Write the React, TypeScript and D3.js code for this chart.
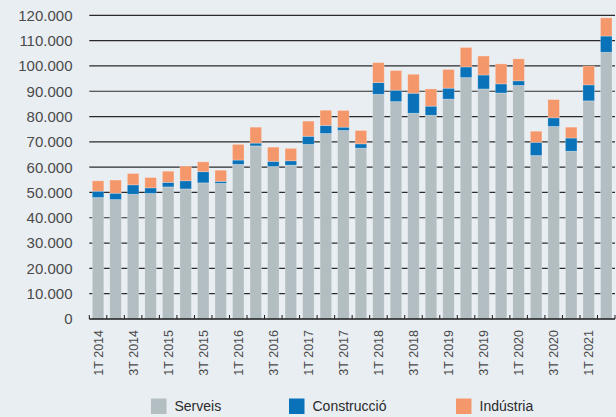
import React from "react";
import * as d3 from "d3";

const quarters: string[] = [];
const years = [2014, 2015, 2016, 2017, 2018, 2019, 2020, 2021];
years.forEach((y) => {
  ["1T", "2T", "3T", "4T"].forEach((q) => quarters.push(`${q} ${y}`));
});
const categories = quarters.slice(0, 30);

const serveis = [
  48.0, 47.2, 49.3, 49.6, 52.2, 51.4, 53.8, 53.6, 61.1, 68.4, 60.3, 60.8, 69.0, 73.3, 74.5,
  67.5, 88.8, 85.9, 81.3, 80.5, 86.9, 95.4, 90.9, 89.3, 92.3, 64.6, 76.1, 66.3, 86.2, 105.4,
];
const construccio = [
  2.5, 2.5, 3.7, 2.2, 1.8, 3.2, 4.4, 0.8, 1.7, 1.1, 2.0, 1.7, 3.2, 3.2, 1.3,
  1.7, 4.6, 4.5, 7.9, 3.6, 4.3, 4.2, 5.5, 3.6, 1.8, 5.2, 3.4, 5.2, 6.3, 6.4,
];
const industria = [
  4.1, 5.2, 4.5, 4.1, 4.4, 5.8, 3.9, 4.4, 6.2, 6.3, 5.6, 4.9, 6.0, 6.0, 6.6,
  5.3, 7.9, 7.8, 7.5, 6.8, 7.4, 7.7, 7.5, 7.9, 8.7, 4.4, 7.2, 4.3, 7.5, 7.2,
];
const seriesNames = ["Serveis", "Construcció", "Indústria"];
const seriesColors = ["#b3bec2", "#0a72b8", "#f4986c"];
const yTicks = [0, 10000, 20000, 30000, 40000, 50000, 60000, 70000, 80000, 90000, 100000, 110000, 120000];

const W = 616;
const H = 417;
const left = 89.3;
const right = 615;
const top = 15.3;
const bottom = 319;

export default function App() {
  const data = categories.map((c, i) => ({
    cat: c,
    Serveis: serveis[i] * 1000,
    "Construcció": construccio[i] * 1000,
    "Indústria": industria[i] * 1000,
  }));
  const stack = d3.stack<any>().keys(seriesNames);
  const stacked = stack(data);

  const x = d3.scaleBand().domain(categories).range([left, right]).paddingInner(0.34).paddingOuter(0.17);
  const y = d3.scaleLinear().domain([0, 120000]).range([bottom, top]);
  const step = x.step();
  const fmt = (v: number) => d3.format(",")(v).replace(/,/g, ".");
  const font = "'Liberation Sans', Arial, sans-serif";

  const legendX = [151, 289, 456];

  return (
    <svg width={W} height={H} style={{ position: "absolute", left: 0, top: 0, display: "block" }}>
      <rect x={0} y={0} width={W} height={H} fill="#e9eef3" />
      {yTicks.map((t) => (
        <g key={t}>
          {t > 0 && (
            <line x1={left} x2={right} y1={y(t)} y2={y(t)} stroke="#2a2a2a" strokeWidth={1.2} />
          )}
          <text
            x={72.5}
            y={y(t)}
            dy="0.36em"
            textAnchor="end"
            fontFamily={font}
            fontSize={15}
            fill="#4a4a4a"
          >
            {fmt(t)}
          </text>
        </g>
      ))}
      {stacked.map((s, si) => (
        <g key={s.key} fill={seriesColors[si]}>
          {s.map((d, i) => (
            <rect
              key={i}
              x={x(categories[i])!}
              y={y(d[1])}
              width={x.bandwidth()}
              height={y(d[0]) - y(d[1])}
              stroke="rgba(255,255,255,0.3)"
              strokeWidth={0.8}
            />
          ))}
        </g>
      ))}
      <line x1={left} x2={right} y1={bottom} y2={bottom} stroke="#1a1a1a" strokeWidth={1.6} />
      {d3.range(categories.length + 1).map((k) => (
        <line
          key={k}
          x1={left + k * step}
          x2={left + k * step}
          y1={bottom}
          y2={bottom - 4}
          stroke="#1a1a1a"
          strokeWidth={1}
        />
      ))}
      {categories.map((c, i) =>
        i % 2 === 0 ? (
          <text
            key={c}
            transform={`translate(${x(c)! + x.bandwidth() / 2},330) rotate(-90)`}
            dy="0.36em"
            textAnchor="end"
            fontFamily={font}
            fontSize={12.5}
            fill="#4a4a4a"
          >
            {c}
          </text>
        ) : null
      )}
      {seriesNames.map((n, i) => (
        <g key={n}>
          <rect x={legendX[i]} y={398.5} width={15.5} height={15.5} fill={seriesColors[i]} />
          <text
            x={legendX[i] + 23.5}
            y={411}
            fontFamily={font}
            fontSize={14}
            fill="#2a2a2a"
          >
            {n}
          </text>
        </g>
      ))}
    </svg>
  );
}
